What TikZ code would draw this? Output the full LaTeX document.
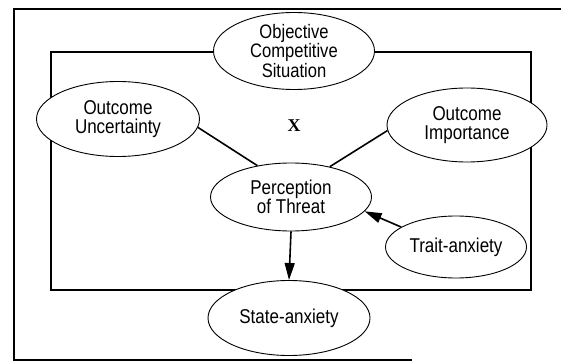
\documentclass[tikz,border=0pt]{standalone}
\usepackage{fontspec}
\setmainfont{Liberation Sans}[FakeStretch=0.85]
\newfontfamily\timesfont{Liberation Serif}
\usetikzlibrary{arrows.meta, shapes.geometric}

\begin{document}
\begin{tikzpicture}[x=1pt, y=-1pt,
    bubble/.style={ellipse, draw, fill=white, line width=0.9pt, inner sep=0pt, align=center, font=\fontsize{20}{19}\selectfont},
    link/.style={line width=1.6pt},
    push/.style={line width=1.6pt, -{Triangle[length=17pt, width=10pt]}}]
\useasboundingbox (0,0) rectangle (561,363);
% frames
\draw[line width=1.3pt] (561,9) -- (14,9) -- (14,360) -- (412,360);
\draw[line width=1.3pt] (51,52) rectangle (531,290);
% ellipses
\node[bubble, minimum width=161pt, minimum height=77pt, font=\fontsize{19.5}{18}\selectfont] (obj) at (294,51) {Objective\\Competitive\\Situation};
\node[bubble, minimum width=163pt, minimum height=75pt] (unc) at (118,119) {Outcome\\Uncertainty};
\node[bubble, minimum width=160pt, minimum height=74pt] (imp) at (467,125) {Outcome\\Importance};
\node[bubble, minimum width=161pt, minimum height=68pt] (thr) at (291,197) {Perception\\of Threat};
\node[bubble, minimum width=141pt, minimum height=62pt] (trait) at (456,247) {Trait-anxiety};
\node[bubble, minimum width=162pt, minimum height=75pt] (state) at (289,318) {State-anxiety};
\node[font=\timesfont\bfseries\fontsize{18}{18}\selectfont] (x) at (294,126) {X};
% connectors
\draw[link] (unc.-6) -- (thr.137);
\draw[link] (imp.184) -- (thr.38);
\draw[push] (trait.160) -- (thr.-11);
\draw[push] (thr.south) -- (state.north);
\end{tikzpicture}
\end{document}
